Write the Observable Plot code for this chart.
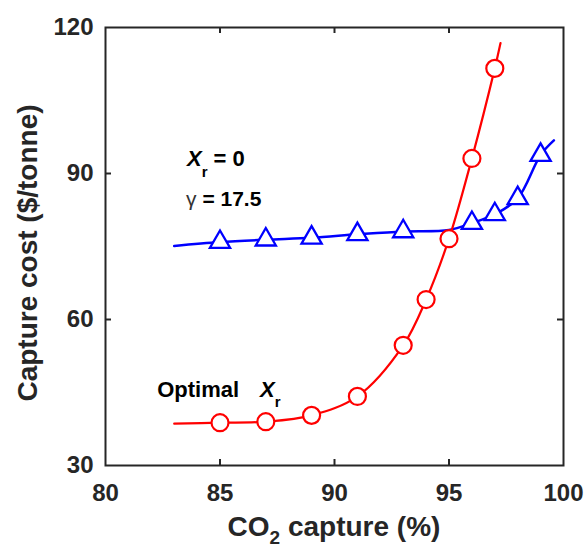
<!DOCTYPE html>
<html><head><meta charset="utf-8">
<script src="https://cdn.jsdelivr.net/npm/d3@7"></script>
<script src="https://cdn.jsdelivr.net/npm/@observablehq/plot@0.6"></script>
<style>body{margin:0;background:#fff} svg{display:block}</style>
</head><body><div id="chart"></div>
<script>
// Axis ticks
const xTicks = [80, 85, 90, 95, 100];
const yTicks = [30, 60, 90, 120];
const xInnerTicks = [85, 90, 95];
const yInnerTicks = [60, 90];

// Optimal X_r (red circles)
const optCapture = [85, 87, 89, 91, 93, 94, 95, 96, 97];
const optCost = [38.8, 39.0, 40.3, 44.2, 54.7, 64.1, 76.6, 93.1, 111.6];
// smooth fit through the optimal points
const optCurveCapture = [83, 85, 87, 89, 91, 93, 94, 95, 96, 97, 97.25];
const optCurveCost = [38.6, 38.8, 39.0, 40.3, 44.2, 54.7, 64.1, 76.6, 93.1, 111.6, 116.8];

// X_r = 0, gamma = 17.5 (blue triangles)
const zeroCapture = [85, 87, 89, 91, 93, 96, 97, 98, 99];
const zeroCost = [75.9, 76.4, 76.8, 77.5, 78.1, 79.8, 81.6, 84.9, 93.8];
const zeroCurveCapture = [83, 85, 87, 89, 91, 93, 95, 96, 97, 98, 99, 99.58];
const zeroCurveCost = [75.1, 75.9, 76.4, 76.8, 77.5, 78.1, 78.4, 79.8, 81.6, 84.9, 93.8, 96.8];

const pts = (xs, ys) => xs.map((x, i) => ({x, y: ys[i]}));
const axisColor = "#262626";
const font = "'Liberation Sans', Arial, Helvetica, sans-serif";

const W = 585, H = 550, mL = 105, mR = 22, mT = 27, mB = 85;
const innerW = W - mL - mR, innerH = H - mT - mB, tickLen = 6;

const chart = Plot.plot({
  width: W, height: H,
  marginLeft: mL, marginRight: mR, marginTop: mT, marginBottom: mB,
  x: {domain: [80, 100]},
  y: {domain: [30, 120]},
  style: {fontFamily: font, background: "white", overflow: "visible"},
  marks: [
    Plot.axisX(xTicks, {anchor: "bottom", tickSize: 0, tickPadding: 18, fontSize: 24, fontWeight: "bold", fill: axisColor, label: null}),
    Plot.axisY(yTicks, {anchor: "left", tickSize: 0, tickPadding: 12, fontSize: 24, fontWeight: "bold", fill: axisColor, label: null}),
    // inward ticks on all four sides
    Plot.tickX(xInnerTicks, {x: d => d, insetTop: innerH - tickLen, stroke: axisColor, strokeWidth: 2}),
    Plot.tickX(xInnerTicks, {x: d => d, insetBottom: innerH - tickLen, stroke: axisColor, strokeWidth: 2}),
    Plot.tickY(yInnerTicks, {y: d => d, insetRight: innerW - tickLen, stroke: axisColor, strokeWidth: 2}),
    Plot.tickY(yInnerTicks, {y: d => d, insetLeft: innerW - tickLen, stroke: axisColor, strokeWidth: 2}),
    Plot.line(pts(zeroCurveCapture, zeroCurveCost), {x: "x", y: "y", stroke: "#0000ff", strokeWidth: 2.5, curve: "catmull-rom"}),
    Plot.dot(pts(zeroCapture, zeroCost), {x: "x", y: "y", symbol: "triangle", r: 7.5, stroke: "#0000ff", fill: "white", strokeWidth: 2.3}),
    Plot.line(pts(optCurveCapture, optCurveCost), {x: "x", y: "y", stroke: "#ff0000", strokeWidth: 2.2, curve: "catmull-rom"}),
    Plot.dot(pts(optCapture, optCost), {x: "x", y: "y", symbol: "circle", r: 8.5, stroke: "#ff0000", fill: "white", strokeWidth: 2.2}),
    Plot.frame({stroke: axisColor, strokeWidth: 2})
  ]
});
document.getElementById("chart").appendChild(chart);

const sx = chart.scale("x"), sy = chart.scale("y");
const svg = d3.select(chart);

// X axis label with subscript
const xl = svg.append("text")
  .attr("x", (sx.apply(80) + sx.apply(100)) / 2).attr("y", 536)
  .attr("text-anchor", "middle").attr("font-family", font)
  .attr("font-size", 28).attr("font-weight", "bold").attr("fill", axisColor);
xl.append("tspan").text("CO");
xl.append("tspan").attr("font-size", 19).attr("dy", 8).text("2");
xl.append("tspan").attr("dy", -8).text(" capture (%)");

// Y axis label
svg.append("text")
  .attr("transform", `translate(37,${(sy.apply(30) + sy.apply(120)) / 2 + 7}) rotate(-90)`)
  .attr("text-anchor", "middle").attr("font-family", font)
  .attr("font-size", 28).attr("font-weight", "bold").attr("fill", axisColor)
  .text("Capture cost ($/tonne)");

// Annotation: X_r = 0
const a1 = svg.append("text")
  .attr("x", sx.apply(83.58)).attr("y", sy.apply(91.4)).attr("text-anchor", "start")
  .attr("font-family", font).attr("font-size", 22).attr("font-weight", "bold").attr("fill", "black");
a1.append("tspan").attr("font-style", "italic").text("X");
a1.append("tspan").attr("font-size", 15).attr("dy", 11).text("r");
a1.append("tspan").attr("dy", -11).text(" = 0");

// Annotation: gamma = 17.5
const a2 = svg.append("text")
  .attr("x", sx.apply(83.54)).attr("y", sy.apply(83.2)).attr("text-anchor", "start")
  .attr("font-family", font).attr("font-size", 21).attr("font-weight", "bold").attr("fill", "black");
a2.append("tspan").attr("font-weight", "normal").attr("fill", "#333").text("γ");
a2.append("tspan").text(" = 17.5");

// Annotation: Optimal X_r
svg.append("text")
  .attr("x", sx.apply(82.28)).attr("y", sy.apply(44.0)).attr("text-anchor", "start")
  .attr("font-family", font).attr("font-size", 22).attr("font-weight", "bold").attr("fill", "black")
  .text("Optimal");
const a3 = svg.append("text")
  .attr("x", sx.apply(86.77)).attr("y", sy.apply(44.0)).attr("text-anchor", "start")
  .attr("font-family", font).attr("font-size", 22).attr("font-weight", "bold").attr("fill", "black");
a3.append("tspan").attr("font-style", "italic").text("X");
a3.append("tspan").attr("font-size", 15).attr("dy", 10).text("r");
</script>
</body></html>
